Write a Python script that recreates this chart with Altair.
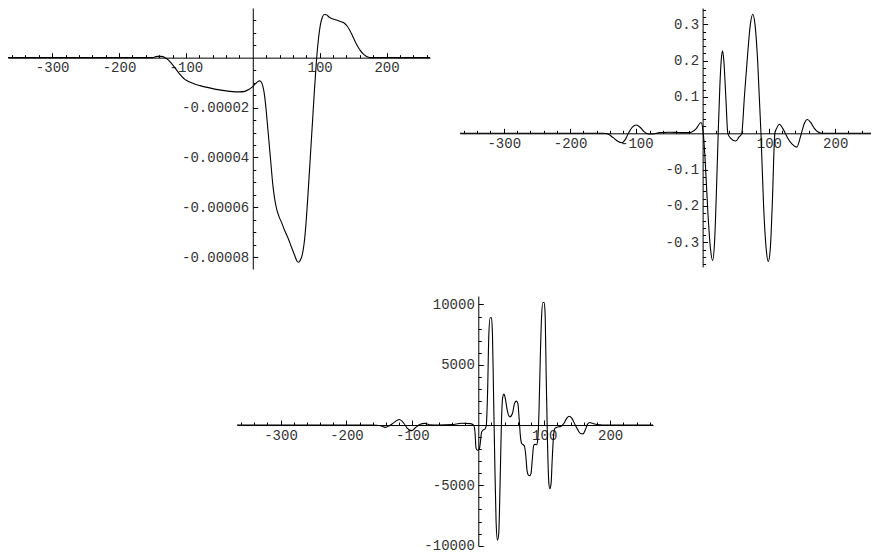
import altair as alt
import pandas as pd

# ---------------- data ----------------
X_DOMAIN = [-366, 265]
X_DOMAIN_P2 = [-366, 254]

# panel 1 (values in units of 1e-5)
p1_x = [-366, -200, -160, -150, -143, -137, -131, -126, -121, -116, -111, -106, -101, -95,
        -88, -79, -70, -60, -50, -40, -30, -20, -12, -6, -1, 3, 7, 10, 12, 14, 16, 18, 20,
        22, 24, 27, 30, 33, 36, 39, 43, 48, 53, 58, 63, 66, 68.5, 71, 74, 77, 80, 83, 86,
        89, 92, 95, 98, 101, 104, 107, 110, 114, 120, 126, 132, 137, 141, 145, 149, 153,
        157, 161, 165, 169, 173, 178, 185, 265]
p1_y_e5 = [0, 0, 0, 0.0, 0.05, 0.05, 0.0, -0.1, -0.25, -0.42, -0.6, -0.76, -0.88, -0.97,
           -1.05, -1.12, -1.18, -1.24, -1.29, -1.33, -1.36, -1.37, -1.35, -1.28, -1.18, -1.07,
           -0.97, -0.93, -0.95, -1.05, -1.25, -1.6, -2.1, -2.7, -3.3, -4.2, -5.1, -5.7, -6.1,
           -6.35, -6.6, -6.95, -7.25, -7.6, -7.95, -8.15, -8.2, -8.12, -7.9, -7.4, -6.5, -5.3,
           -4.0, -2.7, -1.4, -0.2, 0.7, 1.3, 1.62, 1.73, 1.72, 1.63, 1.55, 1.5, 1.44, 1.38,
           1.27, 1.1, 0.88, 0.65, 0.45, 0.28, 0.15, 0.07, 0.02, 0.0, 0, 0]
p1_y = [v * 1e-5 for v in p1_y_e5]

# panel 2
p2_x = [-366, -200, -150, -143, -135, -128, -122, -117, -112, -106, -100, -94, -88, -82,
        -75, -65, -50, -30, -19, -10, -2.4, 1, 4, 8, 12, 15, 18, 21, 23.5, 26, 28, 30, 32,
        35, 38, 42, 50, 55, 59, 63, 68, 72, 75.7, 79, 83, 88, 92, 96, 99, 102, 105, 109,
        112, 116, 121, 128, 135, 142, 146, 149, 153, 158, 163, 168, 173, 180, 254]
p2_y = [0, 0, 0, -0.002, -0.012, -0.022, -0.026, -0.018, 0, 0.017, 0.023, 0.016, 0.004,
        -0.002, -0.002, 0.002, 0.003, 0.002, 0.002, 0.012, 0.030, 0.0, -0.08, -0.22, -0.32,
        -0.35, -0.30, -0.15, 0, 0.13, 0.2, 0.227, 0.2, 0.1, 0, -0.013, -0.021, -0.01, 0.0,
        0.1, 0.22, 0.3, 0.328, 0.3, 0.2, 0, -0.2, -0.32, -0.353, -0.32, -0.2, 0, 0.015,
        0.025, 0.013, -0.012, -0.03, -0.038, -0.02, 0, 0.025, 0.038, 0.03, 0.015, 0.005,
        0, 0]

# panel 3
p3_x = [-366, -160, -148, -141, -135, -128, -120, -113, -108, -101, -95, -88, -81, -74,
        -60, -40, -25, -12, -7, -5, -3.5, -1.5, 1.5, 3, 5, 7.6, 10, 12, 14, 16, 18, 20,
        21.5, 23, 25, 27, 29, 31, 33, 35, 37, 39, 41, 44, 48, 52, 55, 58, 60, 62, 64, 66,
        68, 70, 72, 74, 76, 78, 80, 82, 84, 86, 88.5, 90, 92, 94, 96, 98, 100, 101.5, 103,
        105, 107, 108.6, 110.5, 112, 114, 116, 118, 122, 126, 130, 134, 138, 142, 147, 151,
        155, 159, 163, 166, 169, 173, 180, 189, 265]
p3_y = [0, 0, -60, -190, -60, 200, 460, 150, -250, -460, -200, 60, 135, 30,
        0, 40, 150, 120, 0, -600, -1900, -2090, -2000, -1500, -600, -400, -330, -100, 2500,
        7500, 8900, 8900, 7500, 3000, -3000, -8000, -9540, -9000, -5000, 0, 2300, 2575,
        2200, 1200, 680, 1000, 1800, 1980, 1800, 500, -1000, -1550, -1630, -1750, -2500,
        -3800, -4150, -4200, -4000, -2800, -1700, -1600, -1630, -1300, 1000, 5500, 9000,
        10160, 10160, 9000, 4000, -1500, -4800, -5280, -4800, -3000, -1000, -300, -220,
        -150, -80, 150, 550, 730, 550, 0, -400, -700, -730, -300, 100, 215, 150, 40, 0, 0]

# axis ticks / labels
x_labels = [-300, -200, -100, 100, 200]
x_ticks = [v for v in range(-360, 261, 20) if v != 0]

p1_labels = [-2e-5, -4e-5, -6e-5, -8e-5]
p1_ticks = [round(k * 0.5e-5, 12) for k in range(-16, 4) if k != 0]
p2_labels = [-0.3, -0.2, -0.1, 0.1, 0.2, 0.3]
p2_ticks = [round(k * 0.02, 6) for k in range(-18, 18) if k != 0]
p3_labels = [-10000, -5000, 5000, 10000]
p3_ticks = [k * 1000 for k in range(-10, 11) if k != 0]

FONT = "Liberation Mono"
FS = 14
LBL = "#333333"


def panel(xs, ys, xdom, ydom, w, h, ylabels, yticks, ymajor, yfmt):
    df = pd.DataFrame({"x": xs, "y": ys})
    xlo, xhi = xdom
    ylo, yhi = ydom
    off_left = -w * (0 - xlo) / (xhi - xlo)
    off_right = -w * (xhi - 0) / (xhi - xlo)
    off_bottom = -h * (0 - ylo) / (yhi - ylo)
    off_top = -h * (yhi - 0) / (yhi - ylo)
    xs_scale = alt.Scale(domain=xdom, nice=False, zero=False)
    ys_scale = alt.Scale(domain=ydom, nice=False, zero=False)
    xt = [v for v in x_ticks if xlo <= v <= xhi]
    xl = [v for v in x_labels if xlo <= v <= xhi]

    x_lab_axis = alt.Axis(orient="bottom", values=xl, ticks=False, tickSize=0,
                          domain=True, domainColor="black", domainWidth=1, grid=False,
                          labelFont=FONT, labelFontSize=FS, labelColor=LBL, labelPadding=3,
                          labelFlush=False, labelOverlap=False,
                          labelExpr="(datum.value < 0 ? '-' : '') + format(abs(datum.value), 'd')",
                          offset=off_bottom, title=None)
    y_lab_axis = alt.Axis(orient="left", values=ylabels, ticks=False, tickSize=0,
                          domain=True, domainColor="black", domainWidth=1, grid=False,
                          labelFont=FONT, labelFontSize=FS, labelColor=LBL, labelPadding=4,
                          labelFlush=False, labelOverlap=False,
                          labelExpr="(datum.value < 0 ? '-' : '') + format(abs(datum.value), '" + yfmt + "')",
                          offset=off_left, title=None)
    x_tick_axis = alt.Axis(orient="top", values=xt, labels=False, domain=False,
                           grid=False, ticks=True, tickColor="black", tickWidth=1,
                           tickSize={"condition": {"test": "datum.value % 100 === 0", "value": 5},
                                     "value": 3},
                           offset=off_top, title=None)
    y_tick_axis = alt.Axis(orient="right", values=yticks, labels=False, domain=False,
                           grid=False, ticks=True, tickColor="black", tickWidth=1,
                           tickSize={"condition": {"test": "abs(datum.value / " + repr(ymajor) +
                                                   " - round(datum.value / " + repr(ymajor) +
                                                   ")) < 1e-6", "value": 5},
                                     "value": 3},
                           offset=off_right, title=None)

    line = alt.Chart(df).mark_line(color="black", strokeWidth=1.1, interpolate="monotone",
                                   clip=True).encode(
        x=alt.X("x:Q", scale=xs_scale, axis=x_lab_axis),
        y=alt.Y("y:Q", scale=ys_scale, axis=y_lab_axis),
        order="x:Q",
    )
    ghost = alt.Chart(df).mark_line(opacity=0).encode(
        x=alt.X("x:Q", scale=xs_scale, axis=x_tick_axis),
        y=alt.Y("y:Q", scale=ys_scale, axis=y_tick_axis),
    )
    return alt.layer(line, ghost).resolve_axis(x="independent", y="independent").properties(
        width=w, height=h)


c1 = panel(p1_x, p1_y, X_DOMAIN, [-8.47e-5, 1.99e-5], 422, 261, p1_labels, p1_ticks, 2e-5, ".5f")
c2 = panel(p2_x, p2_y, X_DOMAIN_P2, [-0.368, 0.345], 411, 259, p2_labels, p2_ticks, 0.1, ".1f")
c3 = panel(p3_x, p3_y, X_DOMAIN, [-10030, 10700], 416, 250, p3_labels, p3_ticks, 5000, "d")

spacer = alt.Chart(pd.DataFrame({"s": [0]})).mark_point(opacity=0, size=1).encode(
    x=alt.value(5), y=alt.value(0)).properties(width=229, height=1)

chart = alt.vconcat(
    alt.hconcat(c1, c2, spacing=30),
    alt.hconcat(spacer, c3, spacing=0),
    spacing=26,
).properties(padding=0).configure_view(stroke=None)

chart.save("out.html", embed_options={"renderer": "svg", "actions": False})
